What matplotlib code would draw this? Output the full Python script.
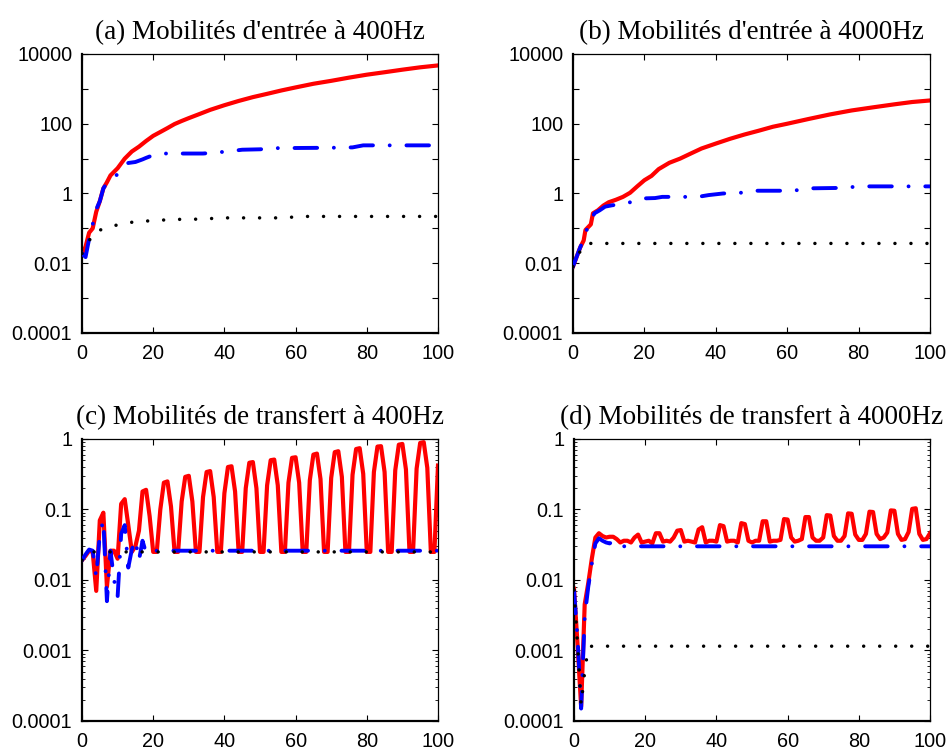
import matplotlib
matplotlib.use("Agg")
import matplotlib.pyplot as plt
import numpy as np

# ---- (a) input mobilities at 400Hz
xa_red = [0, 1, 2, 3, 4, 5, 6, 7, 8, 10, 12, 14, 16, 18, 20, 22, 24, 26, 28, 30, 33, 36, 40, 44, 48,
          52, 56, 60, 65, 70, 75, 80, 85, 90, 95, 100]
ya_red = [0.018, 0.03, 0.075, 0.1, 0.3, 0.6, 1.4, 2.1, 3.3, 5.3, 10, 16, 22, 32, 45, 58, 75, 98, 120, 145,
          190, 250, 340, 450, 580, 720, 900, 1100, 1400, 1700, 2100, 2550, 3000, 3550, 4150, 4700]
xa_blue = [0, 1, 2, 3, 4, 5, 6, 7, 8, 9, 10, 12, 13, 15, 17, 18, 19, 22, 26, 34, 38, 43, 45, 50, 55,
           70, 76, 79, 100]
ya_blue = [0.019, 0.015, 0.05, 0.13, 0.35, 0.6, 1.4, 2.0, 2.6, 3.1, 3.5, 6, 7.5, 8, 9.5, 10.5, 11.5,
           14, 14, 14, 15, 17, 18, 18.5, 20, 20.5, 21, 24, 24]
xa_black = [0, 1.5, 3, 7.5, 12, 16, 20, 25, 35, 38, 57, 61, 100]
ya_black = [0.019, 0.032, 0.075, 0.11, 0.14, 0.16, 0.165, 0.18, 0.185, 0.2, 0.2, 0.22, 0.22]

# ---- (b) input mobilities at 4000Hz
xb_red = [0, 1, 2, 3, 3.5, 5, 5.6, 7, 8.5, 10, 12, 14, 16, 18, 20, 22, 24, 27, 30, 33, 36, 40, 44, 48,
          52, 56, 60, 66, 72, 78, 84, 90, 95, 100]
yb_red = [0.008, 0.015, 0.028, 0.045, 0.09, 0.13, 0.27, 0.33, 0.45, 0.56, 0.66, 0.8, 1.05, 1.6, 2.4,
          3.2, 5, 7.6, 10, 14, 19.5, 27, 37, 49, 63, 82, 100, 137, 185, 240, 295, 360, 420, 465]
xb_blue = [0, 1, 2, 3, 4, 5, 6, 7.5, 9, 11, 14, 16, 19, 23, 25, 35, 38, 42, 47, 50, 62, 65, 76, 80, 100]
yb_blue = [0.008, 0.015, 0.028, 0.05, 0.1, 0.16, 0.27, 0.33, 0.42, 0.46, 0.5, 0.56, 0.72, 0.74, 0.8,
           0.8, 0.9, 1.0, 1.05, 1.2, 1.2, 1.4, 1.45, 1.6, 1.6]
xb_black = [0, 1, 2, 3, 4, 100]
yb_black = [0.008, 0.013, 0.022, 0.035, 0.037, 0.037]

# ---- (c) transfer mobilities at 400Hz
xc_red = list(range(101))
yc_red = [0.019, 0.022, 0.026, 0.025, 0.007, 0.07, 0.09, 0.008, 0.026, 0.026,
          0.02, 0.12, 0.14, 0.06, 0.025, 0.03, 0.05, 0.18, 0.19, 0.08,
          0.025, 0.025, 0.10, 0.24, 0.25, 0.11, 0.025, 0.025, 0.13, 0.29,
          0.30, 0.13, 0.025, 0.025, 0.15, 0.34, 0.35, 0.15, 0.025, 0.025,
          0.17, 0.40, 0.41, 0.18, 0.025, 0.025, 0.20, 0.46, 0.47, 0.20,
          0.025, 0.025, 0.22, 0.50, 0.51, 0.22, 0.025, 0.025, 0.24, 0.54,
          0.55, 0.24, 0.025, 0.025, 0.26, 0.60, 0.62, 0.27, 0.025, 0.025,
          0.28, 0.65, 0.67, 0.29, 0.025, 0.025, 0.31, 0.72, 0.74, 0.32,
          0.025, 0.025, 0.34, 0.78, 0.79, 0.34, 0.025, 0.025, 0.36, 0.83,
          0.85, 0.37, 0.025, 0.025, 0.38, 0.88, 0.90, 0.39, 0.025, 0.025,
          0.42]
xc_blue = [0, 1, 2, 3, 4, 5, 6, 7, 8, 9, 10, 11, 12, 13, 14, 15, 16, 17, 18, 19, 20, 100]
yc_blue = [0.019, 0.023, 0.027, 0.026, 0.011, 0.045, 0.07, 0.005, 0.026, 0.010, 0.0057, 0.045,
           0.06, 0.015, 0.027, 0.037, 0.019, 0.036, 0.024, 0.025, 0.026, 0.026]
xc_black = [0, 2, 100]
yc_black = [0.019, 0.025, 0.025]

# ---- (d) transfer mobilities at 4000Hz
xd_red = list(range(101))
yd_red = [0.0075, 0.0012, 0.00016, 0.0045, 0.009, 0.02, 0.04, 0.046, 0.042, 0.040,
          0.041, 0.041, 0.038, 0.034, 0.036, 0.036, 0.034, 0.040, 0.044, 0.034,
          0.035, 0.036, 0.033, 0.046, 0.046, 0.035, 0.036, 0.035, 0.040, 0.050,
          0.051, 0.035, 0.036, 0.035, 0.034, 0.052, 0.056, 0.034, 0.036, 0.036,
          0.035, 0.060, 0.058, 0.035, 0.036, 0.036, 0.034, 0.064, 0.062, 0.036,
          0.034, 0.036, 0.036, 0.068, 0.068, 0.035, 0.036, 0.036, 0.037, 0.073,
          0.072, 0.040, 0.035, 0.036, 0.038, 0.078, 0.078, 0.040, 0.036, 0.036,
          0.040, 0.083, 0.082, 0.042, 0.036, 0.036, 0.042, 0.088, 0.087, 0.044,
          0.037, 0.037, 0.045, 0.093, 0.092, 0.045, 0.038, 0.040, 0.047, 0.097,
          0.096, 0.045, 0.037, 0.038, 0.048, 0.102, 0.104, 0.045, 0.037, 0.038,
          0.046]
xd_blue = [0, 1, 2, 3, 4, 5, 6, 7, 8, 9, 10, 11, 12, 100]
yd_blue = [0.007, 0.0015, 0.00015, 0.003, 0.008, 0.017, 0.033, 0.039, 0.036, 0.034, 0.033, 0.035,
           0.03, 0.03]
xd_black = [0, 1, 2, 3, 4, 5, 100]
yd_black = [0.0072, 0.0012, 0.00017, 0.0005, 0.0011, 0.00115, 0.00115]

titles = ["(a) Mobilités d'entrée à 400Hz", "(b) Mobilités d'entrée à 4000Hz",
          "(c) Mobilités de transfert à 400Hz", "(d) Mobilités de transfert à 4000Hz"]

plt.rcParams['font.family'] = 'Liberation Sans'

fig = plt.figure(figsize=(9.48, 7.51), dpi=100)
boxes = [[0.0865, 0.5566, 0.3755, 0.3715], [0.6044, 0.5566, 0.3766, 0.3715],
         [0.0865, 0.0400, 0.3755, 0.3755], [0.6055, 0.0400, 0.3755, 0.3755]]
data = [(xa_red, ya_red, xa_blue, ya_blue, xa_black, ya_black),
        (xb_red, yb_red, xb_blue, yb_blue, xb_black, yb_black),
        (xc_red, yc_red, xc_blue, yc_blue, xc_black, yc_black),
        (xd_red, yd_red, xd_blue, yd_blue, xd_black, yd_black)]

for i in range(4):
    ax = fig.add_axes(boxes[i])
    xr, yr, xbl, ybl, xk, yk = data[i]
    ax.plot(xr, yr, color='#ff0000', lw=3.0, solid_joinstyle='round', zorder=2)
    ax.plot(xbl, ybl, color='#0000ff', lw=2.8, linestyle=(0, (5.8, 4.3, 0.01, 4.3)),
            dash_capstyle='round', zorder=3)
    ax.plot(xk, yk, color='black', lw=2.5, linestyle=(0, (0.01, 4.6)),
            dash_capstyle='round', zorder=4)
    ax.set_yscale('log')
    ax.set_xlim(0, 100)
    ax.set_xticks([0, 20, 40, 60, 80, 100])
    if i < 2:
        ax.set_ylim(1e-4, 1e4)
        ax.set_yticks([10.0 ** k for k in range(-4, 5)])
        ax.set_yticklabels(['0.0001', '', '0.01', '', '1', '', '100', '', '10000'])
        ax.yaxis.set_minor_locator(matplotlib.ticker.NullLocator())
    else:
        ax.set_ylim(1e-4, 1)
        ax.set_yticks([1e-4, 1e-3, 1e-2, 1e-1, 1])
        ax.set_yticklabels(['0.0001', '0.001', '0.01', '0.1', '1'])
        ax.yaxis.set_minor_locator(matplotlib.ticker.LogLocator(base=10, subs=np.arange(2, 10)))
        ax.yaxis.set_minor_formatter(matplotlib.ticker.NullFormatter())
    ax.tick_params(which='both', direction='in', top=True, right=True, labelsize=14.3)
    ax.tick_params(which='major', length=4, width=0.8)
    ax.tick_params(which='minor', length=2.5, width=0.6)
    ax.tick_params(axis='y', pad=7)
    ax.tick_params(axis='x', pad=8)
    for s in ['left', 'bottom']:
        ax.spines[s].set_linewidth(1.6)
    for s in ['top', 'right']:
        ax.spines[s].set_linewidth(0.9)
    ax.set_title(titles[i], fontfamily='Liberation Serif', fontsize=19.5, pad=11)

plt.savefig("out.png", dpi=100)
